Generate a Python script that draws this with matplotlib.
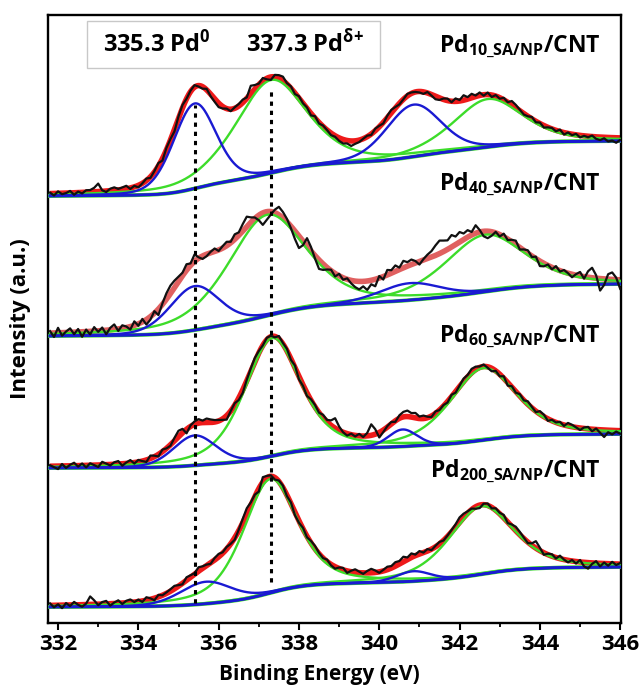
import numpy as np
import matplotlib
matplotlib.use('Agg')
import matplotlib.pyplot as plt
from matplotlib.patches import Rectangle

FONT = 'Open Sans'
plt.rcParams['font.family'] = [FONT, 'DejaVu Sans']
plt.rcParams['font.weight'] = 'bold'
plt.rcParams['mathtext.fontset'] = 'custom'
plt.rcParams['mathtext.rm'] = FONT + ':bold'
plt.rcParams['mathtext.bf'] = FONT + ':bold'
plt.rcParams['mathtext.it'] = FONT + ':bold'

# ---------------- data ----------------
energy_start, energy_stop, energy_step = 331.8, 346.0, 0.1   # eV grid of measured points
x_ticks = [332, 334, 336, 338, 340, 342, 344, 346]
ref_lines = [335.4, 337.3]
ref_text = ['335.3 Pd$^\\mathrm{0}$', '337.3 Pd$^{\\mathrm{δ}\\!+}$']

sample_labels = ['Pd$_\\mathrm{10\\_SA/NP}$/CNT', 'Pd$_\\mathrm{40\\_SA/NP}$/CNT',
                 'Pd$_\\mathrm{60\\_SA/NP}$/CNT', 'Pd$_\\mathrm{200\\_SA/NP}$/CNT']
component_kind = ['Pd0', 'Pd_delta', 'Pd0', 'Pd_delta']   # 3d5/2, 3d5/2, 3d3/2, 3d3/2
component_eta = [0.2, 0.5, 0.2, 0.5]                      # Gauss/Lorentz mix

# background (Shirley) end levels, stacked intensity units (a.u.)
bg_low = [427, 287, 155, 16]
bg_high = [482, 339, 189, 56]

# fitted components: centre (eV), height (a.u.), FWHM (eV)
centers_10 = [335.40, 337.30, 340.85, 342.70]
heights_10 = [85, 93, 52, 48]
fwhm_10 = [1.25, 2.10, 1.60, 2.05]

centers_40 = [335.40, 337.20, 340.76, 342.63]
heights_40 = [44, 101, 17, 57]
fwhm_40 = [1.45, 2.30, 1.80, 2.35]

centers_60 = [335.40, 337.33, 340.58, 342.59]
heights_60 = [30, 118, 17, 72]
fwhm_60 = [1.25, 1.65, 0.85, 1.95]

centers_200 = [335.68, 337.28, 340.85, 342.54]
heights_200 = [22, 114, 10, 68]
fwhm_200 = [1.50, 1.60, 1.00, 1.90]

# measured spectra: deviation of raw counts from the fit envelope (a.u.), 0.1 eV steps
resid_10 = [1, -2, 2, -1, 0, 2, -2, 1, -1, 2,
            2, 4, 8, 1, -1, 2, 3, 1, 2, 3,
            -1, 1, -2, 0, 2, -1, 1, 3, -2, 2,
            1, -2, 2, 3, 0, 1, 2, -1, -2, 1,
            -2, -3, -4, -2, 0, -2, 1, 2, 3, 1,
            8, 4, 1, 3, -1, -3, 2, 3, 4, 1,
            2, -1, 2, 0, 1, -2, 2, -1, 1, 0,
            -2, -1, -3, -4, -3, -5, -3, -2, 0, 1,
            -1, 2, 1, -1, 2, 3, 1, -1, 0, 2,
            1, 0, -1, -2, 1, -1, -3, -2, 1, 2,
            -1, 3, 1, 5, 2, 4, 1, 3, -1, 2,
            -2, 1, -1, 2, 0, 4, 3, 1, -1, 0,
            2, -1, 1, -2, 0, 1, -1, 2, -2, 1,
            -1, 1, -2, 0, -1, 1, -2, -3, -1, -4,
            -3, -5, -2]
resid_40 = [2, -4, 5, -3, 1, 4, -2, 3, -5, 2,
            -3, 4, -1, 3, -4, 2, 5, -2, 3, 1,
            -3, 4, -2, 3, -5, -3, 2, -6, 1, 6,
            8, 7, 5, 3, 6, 2, 7, 1, -3, -2,
            1, 3, -1, 2, 4, 1, 5, 3, 7, 10,
            5, 1, -5, -12, -8, -3, 3, 8, 6, 3,
            -2, -8, -12, -4, 8, 4, -3, -9, -6, -2,
            1, -3, 2, -2, 1, -3, -6, -8, -5, -9,
            -4, -7, 2, -3, 5, 3, 6, 2, 7, 4,
            5, 2, -3, 1, 4, 6, 10, 13, 11, 9,
            12, 8, 10, 6, 7, 3, 8, 2, -5, -7,
            -4, 1, -2, 3, -1, 2, 4, -2, 1, 3,
            -1, 2, -5, -3, 1, -2, 3, -1, 2, 0,
            -3, 1, 4, -2, 6, 10, 3, -12, -6, 5,
            7, 2, -9]
resid_60 = [1, -1, -3, 2, -2, 1, 3, -1, 2, -2,
            2, 0, -2, 3, 1, -1, 2, 3, -2, 1,
            3, -1, 2, 0, -2, 3, 1, -2, 2, 0,
            -1, 3, 6, 4, -4, 1, 3, 4, 2, 4,
            3, 2, 1, -1, -4, 0, 2, -2, -3, 1,
            3, 4, 2, 0, 2, 1, -1, 3, 1, 2,
            -1, 2, -3, -1, -3, 1, 2, 0, 3, 2,
            5, 10, 4, 0, -2, 1, -1, 2, -1, 3,
            11, 5, -5, -2, 1, 2, -1, 3, 5, 6,
            4, 5, 2, 3, 1, -1, 2, 0, 1, -1,
            2, -1, 1, 3, 2, 4, 3, 1, 2, -1,
            -3, 0, -2, 2, -3, 1, -1, 2, 0, 3,
            1, -1, 3, 2, -2, 1, 0, 2, -1, 3,
            2, 0, -2, 1, 2, -2, 1, -3, -7, -2,
            -4, -1, -3]
resid_200 = [2, -2, 1, -3, 2, -1, 3, 0, -2, 1,
             8, 4, -1, 2, 3, -2, 1, 3, -1, 2,
             3, 0, 2, -1, 3, 1, -2, 2, 0, 1,
             2, 3, 1, -1, 3, 2, 1, 4, 2, 1,
             -1, 2, 3, 1, 2, 0, -2, 1, 4, 6,
             3, 2, -3, 5, 2, 1, -2, 1, 2, -1,
             1, -3, -2, 1, -1, 2, 3, 1, 0, 2,
             -1, -2, 1, 2, -2, 1, 3, 1, -1, 2,
             4, 2, -1, 1, 3, 2, 4, 3, 5, 2,
             4, 1, 3, 0, 2, -1, 1, 2, 0, 1,
             2, 3, 5, 4, 2, 1, -2, -3, 1, 2,
             -1, 2, 1, 3, -1, 2, 4, 3, 1, -1,
             2, 7, 3, -2, 1, 2, -1, 3, 0, -2,
             1, -2, 2, -4, -6, -1, 2, -3, 1, -2,
             2, -1, 1]

spectra = [
    (centers_10, heights_10, fwhm_10, resid_10),
    (centers_40, heights_40, fwhm_40, resid_40),
    (centers_60, heights_60, fwhm_60, resid_60),
    (centers_200, heights_200, fwhm_200, resid_200),
]

# ---------------- style ----------------
kind_color = {'Pd0': '#1a1ad2', 'Pd_delta': '#3ddc2a'}
envelope_colors = ['#ee1a1a', '#e06060', '#ee1a1a', '#ee1a1a']


def pvoigt(x, c, h, w, eta):
    g = np.exp(-4 * np.log(2) * (x - c) ** 2 / w ** 2)
    lo = 1.0 / (1 + 4 * (x - c) ** 2 / w ** 2)
    return h * ((1 - eta) * g + eta * lo)


fig = plt.figure(figsize=(6.40, 6.87), dpi=100)
ax = fig.add_axes([48 / 640, 1 - 623 / 687, 573 / 640, 608 / 687])

n_pts = int(round((energy_stop - energy_start) / energy_step)) + 1
sub = 10
xf = np.linspace(energy_start, energy_stop, (n_pts - 1) * sub + 1)
xd = xf[::sub]

for k, (cen, hts, fw, res) in enumerate(spectra):
    comps = [pvoigt(xf, c, h, w, e) for c, h, w, e in zip(cen, hts, fw, component_eta)]
    total = np.sum(comps, axis=0)
    cum = np.concatenate([[0], np.cumsum(0.5 * (total[1:] + total[:-1]) * np.diff(xf))])
    bg = bg_low[k] + (bg_high[k] - bg_low[k]) * cum / cum[-1]
    env = bg + total
    ax.plot(xf, env, color=envelope_colors[k], lw=4.0, zorder=2, solid_capstyle='butt')
    for comp, kind in zip(comps, component_kind):
        if kind == 'Pd_delta':
            ax.plot(xf, bg + comp, color=kind_color[kind], lw=1.7, zorder=3)
    ax.plot(xf, bg, color='#3ddc2a', lw=2.8, zorder=3)
    for comp, kind in zip(comps, component_kind):
        if kind == 'Pd0':
            ax.plot(xf, bg + comp, color=kind_color[kind], lw=1.7, zorder=4)
    ax.plot(xf, bg, color='#1a1ad2', lw=2.0, zorder=4)
    ax.plot(xd, env[::sub] + np.array(res), color='#111111', lw=1.6, zorder=5)

# reference dotted lines
ax.plot([ref_lines[0]] * 2, [20, 518], color='black', lw=2.2, ls=(0, (1.4, 1.6)), zorder=6)
ax.plot([ref_lines[1]] * 2, [41, 535], color='black', lw=2.2, ls=(0, (1.4, 1.6)), zorder=6)

ax.set_xlim(331.75, 346.02)
ax.set_ylim(0, 608)
ax.set_xticks(x_ticks)
ax.set_xticks(np.arange(333, 346, 2), minor=True)
ax.set_yticks([])
ax.tick_params(axis='x', which='major', direction='out', length=5, width=1.5,
               labelsize=16, pad=3)
ax.tick_params(axis='x', which='minor', direction='out', length=3, width=1.3)
for sp in ax.spines.values():
    sp.set_linewidth(1.7)
for lab in ax.get_xticklabels():
    lab.set_fontweight('bold')

ax.set_xlabel('Binding Energy (eV)', fontsize=15, fontweight='bold')
ax.xaxis.set_label_coords((319 - 48) / 573, -0.068)
ax.set_ylabel('Intensity (a.u.)', fontsize=16, fontweight='bold', labelpad=12)

# legend-like box
ax.add_patch(Rectangle((39 / 573, (623 - 68) / 608), (380 - 87) / 573, 47 / 608,
                       transform=ax.transAxes, facecolor='white', edgecolor='#c8c8c8',
                       lw=1.0, zorder=7))
ax.text((103 - 48) / 573, (623 - 52) / 608, ref_text[0], transform=ax.transAxes,
        fontsize=17, fontweight='bold', ha='left', va='baseline', zorder=8)
ax.text((246 - 48) / 573, (623 - 52) / 608, ref_text[1], transform=ax.transAxes,
        fontsize=17, fontweight='bold', ha='left', va='baseline', zorder=8)

label_base_px = [52, 190, 342, 477]
for lab, py in zip(sample_labels, label_base_px):
    ax.text((600 - 48) / 573, (623 - py) / 608, lab, transform=ax.transAxes,
            fontsize=16.5, fontweight='bold', ha='right', va='baseline', zorder=8)

fig.savefig('out.png', dpi=100)
